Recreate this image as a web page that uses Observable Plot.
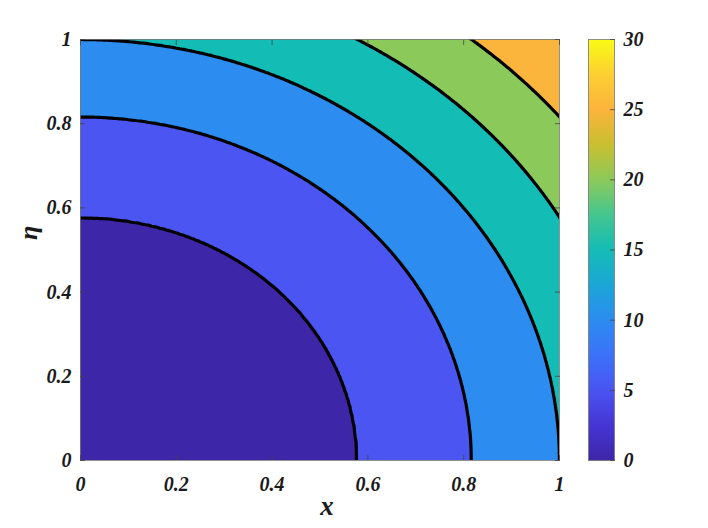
<!DOCTYPE html>
<html>
<head>
<meta charset="utf-8">
<script src="https://cdn.jsdelivr.net/npm/d3@7"></script>
<script src="https://cdn.jsdelivr.net/npm/@observablehq/plot@0.6"></script>
<style>
  body { margin: 0; background: #fff; }
  #chart { position: relative; width: 708px; height: 528px; }
  #chart svg { position: absolute; top: 0; }
</style>
</head>
<body>
<div id="chart"></div>
<script>
// ---------- data ----------
// contour levels and the distance from the origin at which each one is drawn
// (read where the lines cross the bottom axis, the right edge and the top edge)
const levelValues = [0, 5, 10, 15, 20, 25, 30];
const levelRadii  = [0, 0.577, 0.816, 1.0, 1.155, 1.291, 1.414];
const fillLevels = [0, 5, 10, 15, 20, 25];
const lineLevels = [5, 10, 15, 20, 25];
const axisTicks = [0, 0.2, 0.4, 0.6, 0.8, 1];
const barTicks = [0, 5, 10, 15, 20, 25, 30];

// parula-like colour stops, evenly spaced over 0..30
const parula = [
  "#3e26a8", "#4535d4", "#4a55f2", "#3c72f9", "#2c8cf0", "#1ba6d6", "#14bcb6",
  "#44c690", "#8cc95b", "#c9bf2f", "#fbb43c", "#fdcf33", "#f9fb15"
];

// field value from distance to the origin, looked up in the table above
const radiusToValue = d3.scaleLinear(levelRadii, levelValues);
const field = (x, y) => radiusToValue(Math.hypot(x, y));

const colour = {
  type: "linear",
  domain: [barTicks[0], barTicks[barTicks.length - 1]],
  interpolate: d3.piecewise(d3.interpolateRgb, parula)
};
const serif = "'Liberation Serif', 'Times New Roman', serif";
const font = {
  fontFamily: serif, fontSize: "20px", fontWeight: "bold", fontStyle: "italic",
  color: "#1a1a1a", background: "transparent", overflow: "visible"
};
// sample a little past the frame so no contour ring runs along the frame edge
const grid = { x1: -0.05, x2: 1.05, y1: -0.05, y2: 1.05, clip: "frame" };
const tickStyle = { stroke: "#444", strokeWidth: 0.8, fontSize: 20, fontFamily: serif };

// ---------- main filled contour ----------
const main = Plot.plot({
  width: 580, height: 528,
  marginLeft: 80, marginRight: 21, marginTop: 39, marginBottom: 68,
  style: font,
  x: { domain: [0, 1], axis: null },
  y: { domain: [0, 1], axis: null },
  color: colour,
  marks: [
    Plot.contour({ ...grid, fill: field, thresholds: fillLevels, stroke: "none" }),
    Plot.contour({ ...grid, value: field, thresholds: lineLevels, fill: "none", stroke: "black", strokeWidth: 3.2 }),
    Plot.frame({ stroke: "#777", strokeWidth: 0.8 }),
    Plot.axisX(axisTicks, { anchor: "bottom", tickSize: -5, tickPadding: 21, tickFormat: d => String(d), label: null, ...tickStyle }),
    Plot.axisX(axisTicks, { anchor: "top", tickSize: -5, tickFormat: () => "", label: null, ...tickStyle }),
    Plot.axisY(axisTicks, { anchor: "left", tickSize: -5, tickPadding: 14, tickFormat: d => String(d), label: null, ...tickStyle }),
    Plot.axisY(axisTicks, { anchor: "right", tickSize: -5, tickFormat: () => "", label: null, ...tickStyle }),
    Plot.text(["x"], { frameAnchor: "bottom", dx: 7, dy: 54, fontSize: 27, fontFamily: serif }),
    Plot.text(["\u03b7"], { frameAnchor: "left", dx: -52, dy: -10, rotate: -90, fontSize: 26, fontFamily: serif })
  ]
});
main.style.left = "0px";

// ---------- colour bar ----------
const bar = Plot.plot({
  width: 148, height: 528,
  marginLeft: 28, marginRight: 94, marginTop: 39, marginBottom: 68,
  style: font,
  x: { domain: [0, 1], axis: null },
  y: { domain: [barTicks[0], barTicks[barTicks.length - 1]], axis: null },
  color: colour,
  marks: [
    Plot.raster({
      x1: 0, x2: 1, y1: barTicks[0], y2: barTicks[barTicks.length - 1],
      fill: (x, y) => y
    }),
    Plot.frame({ stroke: "#777", strokeWidth: 0.8 }),
    Plot.axisY(barTicks, { anchor: "right", tickSize: -5, tickPadding: 14, tickFormat: d => String(d), label: null, ...tickStyle })
  ]
});
bar.style.left = "560px";

const chart = document.getElementById("chart");
chart.appendChild(main);
chart.appendChild(bar);
</script>
</body>
</html>
